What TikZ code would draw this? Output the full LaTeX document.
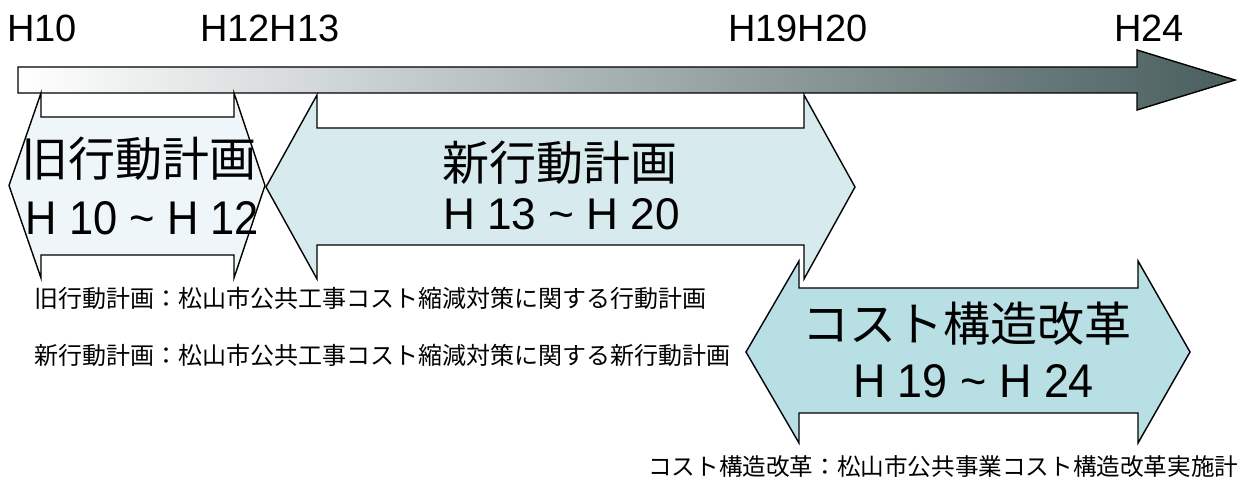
\documentclass[tikz,border=0pt]{standalone}
\usepackage{graphicx}
\usepackage{fontspec}
\setmainfont{Liberation Sans}
\newfontfamily\jp{Noto Sans CJK JP}
\definecolor{tlend}{HTML}{4A5E5E}
\definecolor{aonefill}{HTML}{EEF6F9}
\definecolor{atwofill}{HTML}{D7EBEE}
\definecolor{athreefill}{HTML}{B8DFE4}
\tikzset{
  outline/.style={draw=black, line width=1.4pt, line join=miter},
  yearlbl/.style={anchor=base west, inner sep=0pt, font=\fontsize{38}{40}\selectfont},
  bigjp/.style={anchor=center, inner sep=0pt, font=\jp\fontsize{47}{50}\selectfont},
  biglat/.style={anchor=south, inner sep=0pt},
  notejp/.style={anchor=west, inner sep=0pt, font=\jp\fontsize{24}{26}\selectfont},
}
\newcommand{\latline}[3]{\resizebox{#1pt}{#2pt}{\fontsize{44}{48}\selectfont #3}}
\begin{document}
\begin{tikzpicture}[x=1pt,y=-1pt]
\useasboundingbox (0,0) rectangle (1241,481);
% timeline arrow
\shade[left color=white, right color=tlend]
  (18,67) -- (1137,67) -- (1137,50) -- (1235,80) -- (1137,110) -- (1137,93) -- (18,93) -- cycle;
\draw[outline]
  (18,67) -- (1137,67) -- (1137,50) -- (1235,80) -- (1137,110) -- (1137,93) -- (18,93) -- cycle;
% year labels
\node[yearlbl] (y10) at (7,42) {H10};
\node[yearlbl] (y1213) at (200,42) {H12H13};
\node[yearlbl] (y1920) at (728,42) {H19H20};
\node[yearlbl] (y24) at (1114,42) {H24};
% arrow 1
\draw[outline, fill=aonefill]
  (9,185.5) -- (41,93) -- (41,117) -- (234,117) -- (234,93) -- (265,185.5)
  -- (234,278) -- (234,255) -- (41,255) -- (41,278) -- cycle;
% arrow 3
\draw[outline, fill=athreefill]
  (746,352) -- (799,261) -- (799,288) -- (1138,288) -- (1138,261) -- (1190,352)
  -- (1138,443) -- (1138,413) -- (799,413) -- (799,443) -- cycle;
% arrow 2
\draw[outline, fill=atwofill]
  (266,187) -- (317,95) -- (317,128) -- (804,128) -- (804,95) -- (855,187)
  -- (804,279) -- (804,245) -- (317,245) -- (317,279) -- cycle;
% arrow texts
\node[bigjp] (t1a) at (139,158.5) {旧行動計画};
\node[biglat] (t1b) at (142.5,235) {\latline{233}{33}{H 10 \textasciitilde\ H 12}};
\node[bigjp] (t2a) at (560,162.5) {新行動計画};
\node[biglat] (t2b) at (561.5,230) {\latline{237}{31}{H 13 \textasciitilde\ H 20}};
\node[bigjp] (t3a) at (967,324) {コスト構造改革};
\node[biglat] (t3b) at (973.5,398) {\latline{241}{33}{H 19 \textasciitilde\ H 24}};
% notes
\node[notejp] (n1) at (34,298) {旧行動計画：松山市公共工事コスト縮減対策に関する行動計画};
\node[notejp] (n2) at (34,355) {新行動計画：松山市公共工事コスト縮減対策に関する新行動計画};
\node[notejp, font=\jp\fontsize{23.6}{26}\selectfont] (n3) at (648,467) {コスト構造改革：松山市公共事業コスト構造改革実施計};
\end{tikzpicture}
\end{document}
